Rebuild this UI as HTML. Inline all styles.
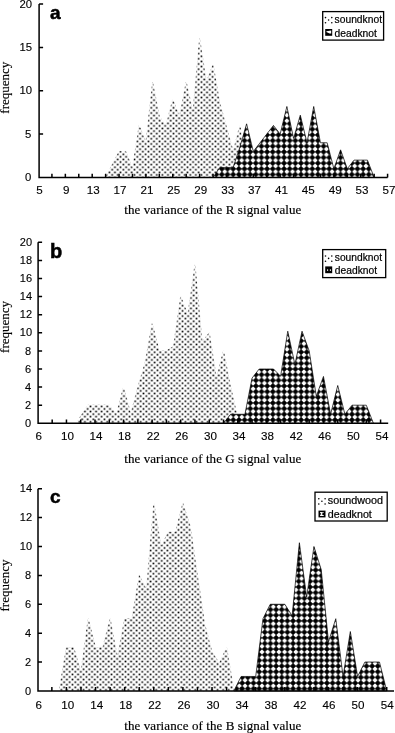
<!DOCTYPE html>
<html lang="en">
<head>
<meta charset="utf-8">
<title>Frequency distributions of R, G, B signal variance</title>
<style>
html,body{margin:0;padding:0;background:#fff;}
body{width:395px;height:733px;overflow:hidden;}
svg{display:block;}
.ax{stroke:#000;stroke-width:1.5;fill:none;}
.tk{font-family:"Liberation Sans",Arial,Helvetica,sans-serif;font-size:11px;fill:#000;stroke:#000;stroke-width:0.12;}
.lg{font-family:"Liberation Sans",Arial,Helvetica,sans-serif;font-size:10.2px;fill:#000;stroke:#000;stroke-width:0.2;}
.ti{font-family:"Liberation Serif","Times New Roman",Times,serif;font-size:13px;fill:#000;stroke:#000;stroke-width:0.18;}
.pl{font-family:"Liberation Sans",Arial,Helvetica,sans-serif;font-size:19px;font-weight:bold;fill:#000;stroke:#000;stroke-width:0.5;}
</style>
</head>
<body>
<svg width="395" height="733" viewBox="0 0 395 733">
<defs>
<pattern id="pSa" width="5.58" height="5.16" patternUnits="userSpaceOnUse" x="1.96" y="0.79">
<rect width="5.58" height="5.16" fill="#fff"/>
<rect x="0.55" y="0.49" width="1.7" height="1.6" fill="#000"/><rect x="3.34" y="3.07" width="1.7" height="1.6" fill="#000"/>
</pattern>
<pattern id="pDa" width="5.65" height="5.65" patternUnits="userSpaceOnUse" x="1.53" y="4.98">
<rect width="5.65" height="5.65" fill="#000"/>
<circle cx="2.83" cy="2.83" r="1.7" fill="#fff"/>
<path d="M5.45 2.83L4.08 4.08L2.83 5.45L1.58 4.08L0.21 2.83L1.58 1.58L2.83 0.21L4.08 1.58 Z" fill="#fff"/>
</pattern>
<pattern id="pSb" width="5.58" height="5.16" patternUnits="userSpaceOnUse" x="2.61" y="0.04">
<rect width="5.58" height="5.16" fill="#fff"/>
<rect x="0.55" y="0.49" width="1.7" height="1.6" fill="#000"/><rect x="3.34" y="3.07" width="1.7" height="1.6" fill="#000"/>
</pattern>
<pattern id="pDb" width="5.65" height="5.65" patternUnits="userSpaceOnUse" x="1.67" y="1.81">
<rect width="5.65" height="5.65" fill="#000"/>
<circle cx="2.83" cy="2.83" r="1.7" fill="#fff"/>
<path d="M5.45 2.83L4.08 4.08L2.83 5.45L1.58 4.08L0.21 2.83L1.58 1.58L2.83 0.21L4.08 1.58 Z" fill="#fff"/>
</pattern>
<pattern id="pSc" width="5.58" height="5.16" patternUnits="userSpaceOnUse" x="4.13" y="2.32">
<rect width="5.58" height="5.16" fill="#fff"/>
<rect x="0.55" y="0.49" width="1.7" height="1.6" fill="#000"/><rect x="3.34" y="3.07" width="1.7" height="1.6" fill="#000"/>
</pattern>
<pattern id="pDc" width="5.65" height="5.65" patternUnits="userSpaceOnUse" x="4.9" y="5.04">
<rect width="5.65" height="5.65" fill="#000"/>
<circle cx="2.83" cy="2.83" r="1.7" fill="#fff"/>
<path d="M5.45 2.83L4.08 4.08L2.83 5.45L1.58 4.08L0.21 2.83L1.58 1.58L2.83 0.21L4.08 1.58 Z" fill="#fff"/>
</pattern>
</defs>
<rect width="395" height="733" fill="#fff"/>

<g>
<path d="M105.63 177.45L105.63 177.45L112.34 164.44L119.06 151.44L125.77 151.44L132.48 168.78L139.19 125.43L145.91 142.77L152.62 82.08L159.33 116.76L166.05 125.43L172.76 99.42L179.47 116.76L186.19 82.08L192.9 112.42L199.61 38.73L206.32 82.08L213.04 64.74L219.75 102.89L226.46 127.16L233.18 151.44L239.89 125.43L246.6 177.45L246.6 177.45Z" fill="url(#pSa)" stroke="url(#pSa)" stroke-width="0.8"/>
<path d="M213.04 177.45L213.04 177.45L219.75 167.48L226.46 167.48L233.18 167.48L239.89 147.1L246.6 123.83L253.32 151.44L260.03 142.77L266.74 134.1L273.46 125.43L280.17 134.1L286.88 106.49L293.59 138.44L300.31 115.16L307.02 142.77L313.73 106.49L320.45 142.77L327.16 142.77L333.87 168.78L340.58 149.84L347.3 168.78L354.01 160.11L360.72 160.11L367.44 160.11L374.15 177.45L374.15 177.45Z" fill="url(#pDa)" stroke="#000" stroke-width="0.7" stroke-linejoin="miter" stroke-miterlimit="14"/>
<path class="ax" d="M39.1 4.05V177.45H387.6M39.1 177.45h4M39.1 134.1h4M39.1 90.75h4M39.1 47.4h4M39.1 4.05h4M51.93 177.45v-3.8M65.35 177.45v-3.8M78.78 177.45v-3.8M92.2 177.45v-3.8M105.63 177.45v-3.8M119.06 177.45v-3.8M132.48 177.45v-3.8M145.91 177.45v-3.8M159.33 177.45v-3.8M172.76 177.45v-3.8M186.19 177.45v-3.8M199.61 177.45v-3.8M213.04 177.45v-3.8M226.46 177.45v-3.8M239.89 177.45v-3.8M253.32 177.45v-3.8M266.74 177.45v-3.8M280.17 177.45v-3.8M293.59 177.45v-3.8M307.02 177.45v-3.8M320.45 177.45v-3.8M333.87 177.45v-3.8M347.3 177.45v-3.8M360.72 177.45v-3.8M374.15 177.45v-3.8M387.58 177.45v-3.8"/>
<text class="tk" x="31.2" y="181.1" style="font-size:11.3px" text-anchor="end">0</text>
<text class="tk" x="31.2" y="137.75" style="font-size:11.3px" text-anchor="end">5</text>
<text class="tk" x="32.1" y="94.4" style="font-size:11.3px" text-anchor="end">10</text>
<text class="tk" x="32.1" y="51.05" style="font-size:11.3px" text-anchor="end">15</text>
<text class="tk" x="32.1" y="7.7" style="font-size:11.3px" text-anchor="end">20</text>
<text class="tk" transform="translate(39.4 194) scale(1.06 1)" style="font-size:11.0px" text-anchor="middle">5</text>
<text class="tk" transform="translate(66.29 194) scale(1.06 1)" style="font-size:11.0px" text-anchor="middle">9</text>
<text class="tk" transform="translate(93.18 194) scale(1.06 1)" style="font-size:11.0px" text-anchor="middle">13</text>
<text class="tk" transform="translate(120.07 194) scale(1.06 1)" style="font-size:11.0px" text-anchor="middle">17</text>
<text class="tk" transform="translate(146.96 194) scale(1.06 1)" style="font-size:11.0px" text-anchor="middle">21</text>
<text class="tk" transform="translate(173.85 194) scale(1.06 1)" style="font-size:11.0px" text-anchor="middle">25</text>
<text class="tk" transform="translate(200.74 194) scale(1.06 1)" style="font-size:11.0px" text-anchor="middle">29</text>
<text class="tk" transform="translate(227.63 194) scale(1.06 1)" style="font-size:11.0px" text-anchor="middle">33</text>
<text class="tk" transform="translate(254.52 194) scale(1.06 1)" style="font-size:11.0px" text-anchor="middle">37</text>
<text class="tk" transform="translate(281.41 194) scale(1.06 1)" style="font-size:11.0px" text-anchor="middle">41</text>
<text class="tk" transform="translate(308.3 194) scale(1.06 1)" style="font-size:11.0px" text-anchor="middle">45</text>
<text class="tk" transform="translate(335.2 194) scale(1.06 1)" style="font-size:11.0px" text-anchor="middle">49</text>
<text class="tk" transform="translate(362.09 194) scale(1.06 1)" style="font-size:11.0px" text-anchor="middle">53</text>
<text class="tk" transform="translate(388.98 194) scale(1.06 1)" style="font-size:11.0px" text-anchor="middle">57</text>
<text class="ti" x="124.2" y="214.2" textLength="177.2" lengthAdjust="spacing">the variance of the R signal value</text>
<text class="ti" transform="translate(9.3 87.7) rotate(-90)" text-anchor="middle" textLength="52" lengthAdjust="spacing">frequency</text>
<text class="pl" x="49.9" y="19.2" style="font-size:19px">a</text>
<rect x="322.7" y="11.6" width="60.9" height="28.5" fill="#fff" stroke="#000" stroke-width="1.3"/>
<g fill="#000"><circle cx="325.5" cy="17.6" r="0.8"/><circle cx="331.8" cy="17.6" r="0.8"/><circle cx="328.6" cy="20" r="0.8"/><circle cx="325.5" cy="22.8" r="0.8"/><circle cx="331.8" cy="22.8" r="0.8"/></g>
<rect x="325.2" y="29" width="7" height="6.8" fill="#000"/>
<path d="M326.4 31.3L331.2 30.4L331.2 33.4L329.6 33.4L326.4 32Z" fill="#fff"/>
<text class="lg" x="334.6" y="22.6" textLength="47.4" lengthAdjust="spacingAndGlyphs">soundknot</text>
<text class="lg" x="334.6" y="36.6" textLength="42.3" lengthAdjust="spacingAndGlyphs">deadknot</text>
</g>
<g>
<path d="M76.45 423.3L76.45 423.3L80.73 416.06L87.87 405.2L95.01 405.2L102.15 405.2L109.29 405.2L116.43 414.25L123.57 387.1L130.71 414.25L137.85 387.1L144.99 363.57L152.12 323.75L159.26 350.9L166.4 350.9L173.54 346.38L180.68 296.6L187.82 314.7L194.96 264.93L202.1 341.85L209.24 332.8L216.38 378.05L223.51 350.9L230.65 387.1L237.79 418.78L244.93 423.3L244.93 423.3Z" fill="url(#pSb)" stroke="url(#pSb)" stroke-width="0.8"/>
<path d="M223.51 423.3L223.51 423.3L230.65 414.25L237.79 414.25L244.93 414.25L252.07 378.05L259.21 369L266.35 369L273.49 369L280.63 376.24L287.76 331.2L294.9 364.48L302.04 331.2L309.18 350.9L316.32 396.15L323.46 376.45L330.6 414.25L337.74 385.5L344.88 414.25L352.02 405.2L359.15 405.2L366.29 405.2L373.43 423.3L373.43 423.3Z" fill="url(#pDb)" stroke="#000" stroke-width="0.7" stroke-linejoin="miter" stroke-miterlimit="14"/>
<path class="ax" d="M38.1 242.3V423.3H388.2M38.1 423.3h4M38.1 405.2h4M38.1 387.1h4M38.1 369h4M38.1 350.9h4M38.1 332.8h4M38.1 314.7h4M38.1 296.6h4M38.1 278.5h4M38.1 260.4h4M38.1 242.3h4M52.18 423.3v-3.8M66.46 423.3v-3.8M80.73 423.3v-3.8M95.01 423.3v-3.8M109.29 423.3v-3.8M123.57 423.3v-3.8M137.85 423.3v-3.8M152.12 423.3v-3.8M166.4 423.3v-3.8M180.68 423.3v-3.8M194.96 423.3v-3.8M209.24 423.3v-3.8M223.51 423.3v-3.8M237.79 423.3v-3.8M252.07 423.3v-3.8M266.35 423.3v-3.8M280.63 423.3v-3.8M294.9 423.3v-3.8M309.18 423.3v-3.8M323.46 423.3v-3.8M337.74 423.3v-3.8M352.02 423.3v-3.8M366.29 423.3v-3.8M380.57 423.3v-3.8"/>
<text class="tk" x="31.2" y="426.95" style="font-size:11.0px" text-anchor="end">0</text>
<text class="tk" x="31.2" y="408.85" style="font-size:11.0px" text-anchor="end">2</text>
<text class="tk" x="31.2" y="390.75" style="font-size:11.0px" text-anchor="end">4</text>
<text class="tk" x="31.2" y="372.65" style="font-size:11.0px" text-anchor="end">6</text>
<text class="tk" x="31.2" y="354.55" style="font-size:11.0px" text-anchor="end">8</text>
<text class="tk" x="32.1" y="336.45" style="font-size:11.0px" text-anchor="end">10</text>
<text class="tk" x="32.1" y="318.35" style="font-size:11.0px" text-anchor="end">12</text>
<text class="tk" x="32.1" y="300.25" style="font-size:11.0px" text-anchor="end">14</text>
<text class="tk" x="32.1" y="282.15" style="font-size:11.0px" text-anchor="end">16</text>
<text class="tk" x="32.1" y="264.05" style="font-size:11.0px" text-anchor="end">18</text>
<text class="tk" x="32.1" y="245.95" style="font-size:11.0px" text-anchor="end">20</text>
<text class="tk" transform="translate(38.8 440.4) scale(1.06 1)" style="font-size:11.0px" text-anchor="middle">6</text>
<text class="tk" transform="translate(67.4 440.4) scale(1.06 1)" style="font-size:11.0px" text-anchor="middle">10</text>
<text class="tk" transform="translate(96 440.4) scale(1.06 1)" style="font-size:11.0px" text-anchor="middle">14</text>
<text class="tk" transform="translate(124.59 440.4) scale(1.06 1)" style="font-size:11.0px" text-anchor="middle">18</text>
<text class="tk" transform="translate(153.19 440.4) scale(1.06 1)" style="font-size:11.0px" text-anchor="middle">22</text>
<text class="tk" transform="translate(181.79 440.4) scale(1.06 1)" style="font-size:11.0px" text-anchor="middle">26</text>
<text class="tk" transform="translate(210.39 440.4) scale(1.06 1)" style="font-size:11.0px" text-anchor="middle">30</text>
<text class="tk" transform="translate(238.98 440.4) scale(1.06 1)" style="font-size:11.0px" text-anchor="middle">34</text>
<text class="tk" transform="translate(267.58 440.4) scale(1.06 1)" style="font-size:11.0px" text-anchor="middle">38</text>
<text class="tk" transform="translate(296.18 440.4) scale(1.06 1)" style="font-size:11.0px" text-anchor="middle">42</text>
<text class="tk" transform="translate(324.78 440.4) scale(1.06 1)" style="font-size:11.0px" text-anchor="middle">46</text>
<text class="tk" transform="translate(353.37 440.4) scale(1.06 1)" style="font-size:11.0px" text-anchor="middle">50</text>
<text class="tk" transform="translate(381.97 440.4) scale(1.06 1)" style="font-size:11.0px" text-anchor="middle">54</text>
<text class="ti" x="124.2" y="463" textLength="177.2" lengthAdjust="spacing">the variance of the G signal value</text>
<text class="ti" transform="translate(9.3 326.9) rotate(-90)" text-anchor="middle" textLength="52" lengthAdjust="spacing">frequency</text>
<text class="pl" x="50" y="257.6" style="font-size:20px">b</text>
<rect x="322.7" y="249.6" width="63" height="28" fill="#fff" stroke="#000" stroke-width="1.3"/>
<g fill="#000"><circle cx="325.5" cy="256" r="0.8"/><circle cx="331.8" cy="256" r="0.8"/><circle cx="328.6" cy="258.4" r="0.8"/><circle cx="325.5" cy="261.2" r="0.8"/><circle cx="331.8" cy="261.2" r="0.8"/></g>
<rect x="325.2" y="266.4" width="7" height="6.8" fill="#000"/>
<path d="M327.2 269.3v1.8h0.9v-1.8zM329.9 269.3v1.8h0.9v-1.8z" fill="#fff"/>
<text class="lg" x="334.8" y="261" textLength="47.2" lengthAdjust="spacingAndGlyphs">soundknot</text>
<text class="lg" x="334.8" y="274" textLength="42.3" lengthAdjust="spacingAndGlyphs">deadknot</text>
</g>
<g>
<path d="M59.14 690.9L59.14 690.9L66.42 647.58L73.7 647.58L80.98 672.13L88.26 618.7L95.54 647.58L102.82 647.58L110.1 618.7L117.38 657.69L124.66 618.7L131.94 618.7L139.22 575.38L146.5 589.82L153.78 503.18L161.06 546.5L168.34 532.06L175.62 532.06L182.9 503.18L190.18 526.28L197.46 575.38L204.74 624.48L212.02 651.91L219.3 663.46L226.58 647.58L233.86 690.9L233.86 690.9Z" fill="url(#pSc)" stroke="url(#pSc)" stroke-width="0.8"/>
<path d="M233.86 690.9L233.86 690.9L241.14 676.46L248.42 676.46L255.7 676.46L262.98 618.7L270.26 604.26L277.54 604.26L284.82 604.26L292.1 615.81L299.38 542.73L306.66 597.04L313.94 546.5L321.22 569.6L328.5 641.8L335.78 618.7L343.06 676.46L350.34 631.54L357.62 676.46L364.9 662.02L372.18 662.02L379.46 662.02L386.74 690.9L386.74 690.9Z" fill="url(#pDc)" stroke="#000" stroke-width="0.7" stroke-linejoin="miter" stroke-miterlimit="14"/>
<path class="ax" d="M38 488.74V690.9H394M38 690.9h4M38 662.02h4M38 633.14h4M38 604.26h4M38 575.38h4M38 546.5h4M38 517.62h4M38 488.74h4M51.86 690.9v-3.8M66.42 690.9v-3.8M80.98 690.9v-3.8M95.54 690.9v-3.8M110.1 690.9v-3.8M124.66 690.9v-3.8M139.22 690.9v-3.8M153.78 690.9v-3.8M168.34 690.9v-3.8M182.9 690.9v-3.8M197.46 690.9v-3.8M212.02 690.9v-3.8M226.58 690.9v-3.8M241.14 690.9v-3.8M255.7 690.9v-3.8M270.26 690.9v-3.8M284.82 690.9v-3.8M299.38 690.9v-3.8M313.94 690.9v-3.8M328.5 690.9v-3.8M343.06 690.9v-3.8M357.62 690.9v-3.8M372.18 690.9v-3.8M386.74 690.9v-3.8"/>
<text class="tk" x="31.2" y="694.55" style="font-size:11.0px" text-anchor="end">0</text>
<text class="tk" x="31.2" y="665.67" style="font-size:11.0px" text-anchor="end">2</text>
<text class="tk" x="31.2" y="636.79" style="font-size:11.0px" text-anchor="end">4</text>
<text class="tk" x="31.2" y="607.91" style="font-size:11.0px" text-anchor="end">6</text>
<text class="tk" x="31.2" y="579.03" style="font-size:11.0px" text-anchor="end">8</text>
<text class="tk" x="32.1" y="550.15" style="font-size:11.0px" text-anchor="end">10</text>
<text class="tk" x="32.1" y="521.27" style="font-size:11.0px" text-anchor="end">12</text>
<text class="tk" x="32.1" y="492.39" style="font-size:11.0px" text-anchor="end">14</text>
<text class="tk" transform="translate(38.7 708.8) scale(1.06 1)" style="font-size:11.0px" text-anchor="middle">6</text>
<text class="tk" transform="translate(67.74 708.8) scale(1.06 1)" style="font-size:11.0px" text-anchor="middle">10</text>
<text class="tk" transform="translate(96.77 708.8) scale(1.06 1)" style="font-size:11.0px" text-anchor="middle">14</text>
<text class="tk" transform="translate(125.81 708.8) scale(1.06 1)" style="font-size:11.0px" text-anchor="middle">18</text>
<text class="tk" transform="translate(154.85 708.8) scale(1.06 1)" style="font-size:11.0px" text-anchor="middle">22</text>
<text class="tk" transform="translate(183.88 708.8) scale(1.06 1)" style="font-size:11.0px" text-anchor="middle">26</text>
<text class="tk" transform="translate(212.92 708.8) scale(1.06 1)" style="font-size:11.0px" text-anchor="middle">30</text>
<text class="tk" transform="translate(241.96 708.8) scale(1.06 1)" style="font-size:11.0px" text-anchor="middle">34</text>
<text class="tk" transform="translate(270.99 708.8) scale(1.06 1)" style="font-size:11.0px" text-anchor="middle">38</text>
<text class="tk" transform="translate(300.03 708.8) scale(1.06 1)" style="font-size:11.0px" text-anchor="middle">42</text>
<text class="tk" transform="translate(329.07 708.8) scale(1.06 1)" style="font-size:11.0px" text-anchor="middle">46</text>
<text class="tk" transform="translate(358.1 708.8) scale(1.06 1)" style="font-size:11.0px" text-anchor="middle">50</text>
<text class="tk" transform="translate(387.14 708.8) scale(1.06 1)" style="font-size:11.0px" text-anchor="middle">54</text>
<text class="ti" x="124.2" y="729.5" textLength="177.2" lengthAdjust="spacing">the variance of the B signal value</text>
<text class="ti" transform="translate(9.3 585.5) rotate(-90)" text-anchor="middle" textLength="52" lengthAdjust="spacing">frequency</text>
<text class="pl" x="50" y="502.8" style="font-size:19px">c</text>
<rect x="315" y="492.2" width="72.2" height="28.8" fill="#fff" stroke="#000" stroke-width="1.3"/>
<g fill="#000"><circle cx="318.8" cy="498.8" r="0.8"/><circle cx="325.1" cy="498.8" r="0.8"/><circle cx="321.9" cy="501.2" r="0.8"/><circle cx="318.8" cy="504" r="0.8"/><circle cx="325.1" cy="504" r="0.8"/></g>
<rect x="318.5" y="510.6" width="7" height="6.8" fill="#000"/>
<path d="M320.1 511.9h3.6v0.9h-2l1.2 1.1l-1.2 1.1h2v0.9h-3.6l0 -0.9l1.2 -1.1l-1.2 -1.1z" fill="#fff"/>
<text class="lg" x="327.8" y="503.8" textLength="55.2" lengthAdjust="spacingAndGlyphs">soundwood</text>
<text class="lg" x="327.8" y="518.2" textLength="44" lengthAdjust="spacingAndGlyphs">deadknot</text>
</g>
</svg>
</body>
</html>
